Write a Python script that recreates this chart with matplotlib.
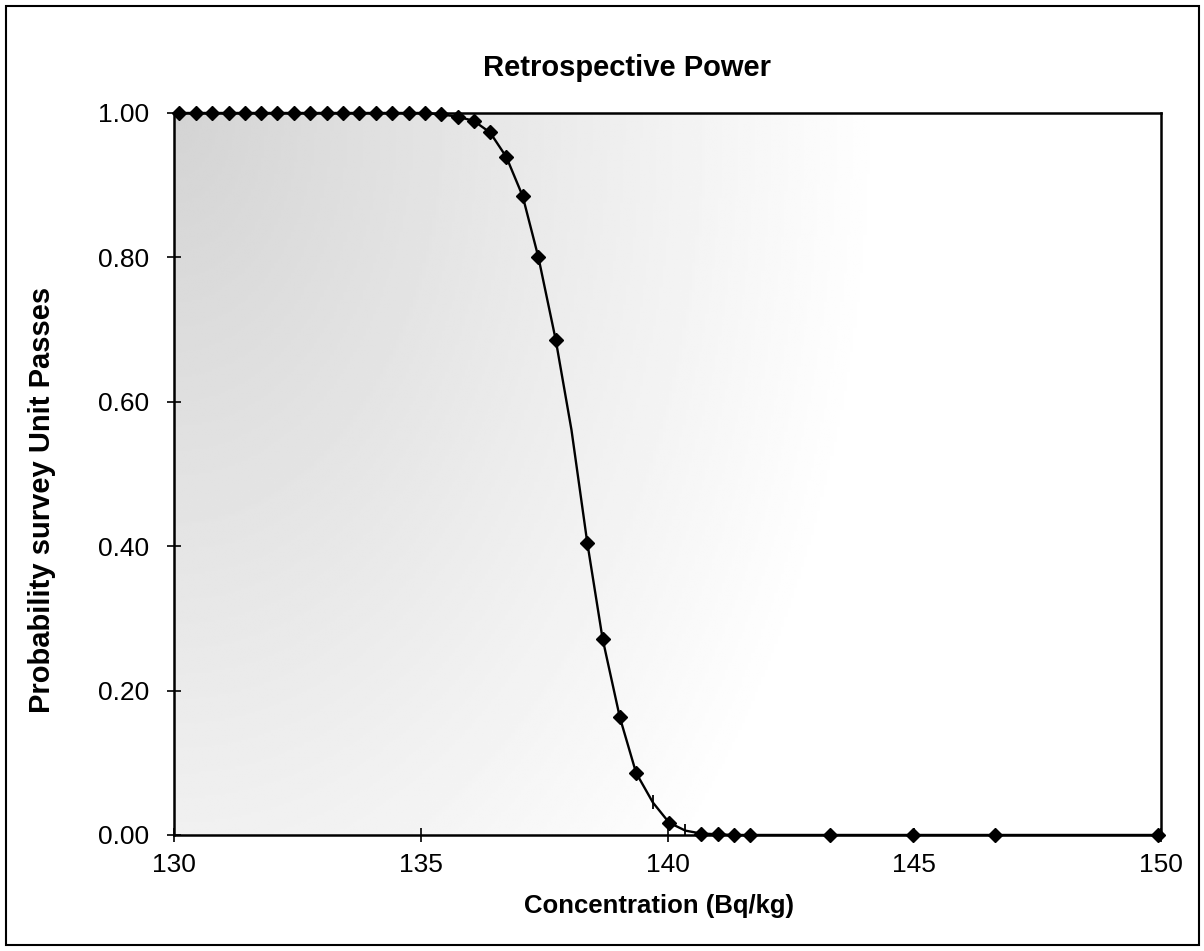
import numpy as np
import matplotlib
matplotlib.use('Agg')
import matplotlib.pyplot as plt

plt.rcParams['font.family'] = ['Liberation Sans', 'DejaVu Sans']

# 读图得到的数据
conc = [130.10, 130.43, 130.76, 131.10, 131.43, 131.76, 132.09, 132.42, 132.75, 133.09,
        133.42, 133.75, 134.08, 134.41, 134.75, 135.08, 135.41, 135.74, 136.07, 136.40,
        136.73, 137.06, 137.38, 137.73, 138.05, 138.37, 138.68, 139.03, 139.36, 139.70,
        140.03, 140.36, 140.68, 141.01, 141.34, 141.67, 143.30, 144.98, 146.63, 149.93]
prob = [1.000, 1.000, 1.000, 1.000, 1.000, 1.000, 1.000, 1.000, 1.000, 1.000,
        1.000, 1.000, 1.000, 1.000, 1.000, 1.000, 0.998, 0.995, 0.989, 0.973,
        0.939, 0.885, 0.800, 0.686, 0.561, 0.405, 0.272, 0.163, 0.086, 0.045,
        0.017, 0.006, 0.002, 0.001, 0.000, 0.000, 0.000, 0.000, 0.000, 0.000]
no_marker = [24, 29, 31]     # 这些点只有线, 没有菱形
tick_mark = [29, 31]         # 这些点有竖的小刻线

x_ticks = [130, 135, 140, 145, 150]
y_ticks = [0.0, 0.2, 0.4, 0.6, 0.8, 1.0]

fig = plt.figure(figsize=(12.04, 9.51), dpi=100)
ax = fig.add_axes([0.1448, 0.1220, 0.8195, 0.7592])

# 灰色渐变背景
gx, gy = np.meshgrid(np.linspace(0, 1, 300), np.linspace(1, 0, 300))
d = np.sqrt((gx / 0.72) ** 2 + ((1 - gy) / 1.5) ** 2)
shade = np.clip(0.83 + 0.17 * d, 0.83, 1.0)
ax.imshow(shade, extent=[130, 150, 0, 1], aspect='auto', cmap='gray',
          vmin=0, vmax=1, zorder=0, interpolation='bilinear')

marks = [i for i in range(len(conc)) if i not in no_marker]
ax.plot(conc, prob, color='black', lw=1.7, marker='D', markersize=7.6,
        markevery=marks, clip_on=False, zorder=3)
ax.plot([conc[i] for i in tick_mark], [prob[i] for i in tick_mark], linestyle='none',
        marker='|', markersize=10, markeredgewidth=1.3, color='black', zorder=3)

ax.set_xlim(130, 150)
ax.set_ylim(0, 1.0)
ax.set_xticks(x_ticks)
ax.set_yticks(y_ticks)
ax.set_yticklabels([f'{v:.2f}' for v in y_ticks])
ax.tick_params(axis='both', direction='inout', length=10, width=1.2, labelsize=19)
ax.tick_params(axis='x', pad=8)
ax.tick_params(axis='y', pad=13)
ax.tick_params(top=False, right=False)
for s in ax.spines.values():
    s.set_linewidth(1.8)

fig.text(0.521, 0.9285, 'Retrospective Power', ha='center', va='center',
         fontsize=21, fontweight='bold')
fig.text(0.547, 0.047, 'Concentration (Bq/kg)', ha='center', va='center',
         fontsize=18.5, fontweight='bold')
fig.text(0.035, 0.474, 'Probability survey Unit Passes', ha='center', va='center',
         rotation=90, fontsize=21, fontweight='bold')

# 外框
fig.patches.append(plt.Rectangle((0.005, 0.006), 0.991, 0.988, transform=fig.transFigure,
                                 fill=False, edgecolor='black', linewidth=1.5))

fig.savefig('out.png', dpi=100)
